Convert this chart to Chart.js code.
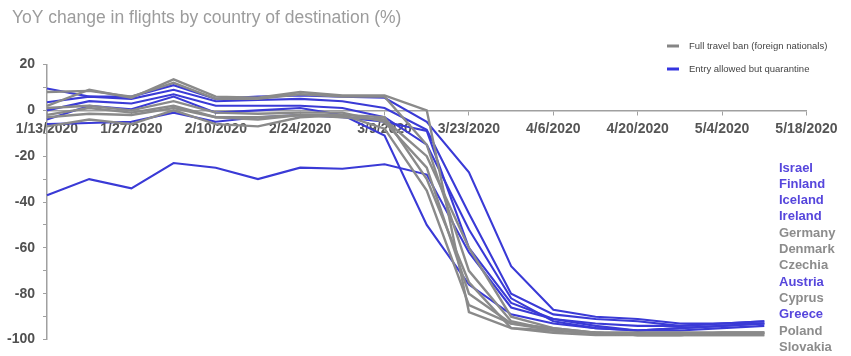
<!DOCTYPE html>
<html>
<head>
<meta charset="utf-8">
<script src="https://cdn.jsdelivr.net/npm/chart.js@4/dist/chart.umd.min.js"></script>
<style>
  html, body { margin: 0; padding: 0; background: #ffffff; }
  #wrap { position: relative; width: 851px; height: 356px; }
</style>
</head>
<body>
<div id="wrap"><canvas id="chart"></canvas></div>
<script>
// Weekly dates (Mondays); the last one only carries an axis tick
const weeks = ['1/13/2020','1/20/2020','1/27/2020','2/3/2020','2/10/2020','2/17/2020','2/24/2020','3/2/2020',
  '3/9/2020','3/16/2020','3/23/2020','3/30/2020','4/6/2020','4/13/2020','4/20/2020','4/27/2020','5/4/2020',
  '5/11/2020','5/18/2020'];

// Countries whose entry rules allowed arrivals with quarantine
const israel  = [-37, -30, -34, -23, -25, -30, -25, -25.5, -23.5, -28, -62, -86, -91, -93, -94, -94, -93, -92];
const finland = [9.5, 6, 6, 11, 5, 6, 6.5, 6, 5.5, -5, -27, -68, -87, -90, -91, -93, -93, -92];
const iceland = [3.5, 6, 5, 9, 4, 4.5, 5, 4, 1, -8.5, -45, -80, -89, -91, -92, -94, -93, -93];
const ireland = [0, 4, 3, 7, 2, 2, 2, 1, -3, -15, -52, -82, -92, -95, -96, -95, -94, -93];
const austria = [-4, 2, 0.5, 6, -1, 0, 1, -2, -11, -50, -76, -89, -93, -95, -96, -96, -95, -94];
const greece  = [-6, -5.5, -5, -1, -5, -3, -2, -3, -5, -9, -60, -84, -91, -94, -96, -95, -94, -93];

// Countries with a full travel ban for foreign nationals
const germany  = [2, 9, 5.5, 13.5, 6, 5.5, 8, 6.5, 6.5, 0, -88, -95, -96, -97, -97, -97, -97, -97];
const denmark  = [8, 8.5, 6, 12, 5, 5, 7, 6, 6, -15, -70, -92, -96, -97, -98, -98, -97, -97];
const czechia  = [1, 2, 0, 4, -1, -1.5, -1, -1, -5, -25, -80, -93, -96, -97, -97, -97, -97, -97];
const cyprus   = [-2, 1, -1, 2, -3, -4, -2, -2, -8, -35, -85, -93, -95, -97, -98, -98, -97, -97];
const poland   = [-3, -1.5, -2, 1, -3, -3, -2, -3, -4, -20, -60, -90, -95, -97, -98, -98, -98, -98];
const slovakia = [-7, -4, -6, 0, -6, -7, -3, -2, -3, -30, -75, -95, -97, -98, -98, -98, -98, -98];

const yTicks = [20, 0, -20, -40, -60, -80, -100];

const labelOrder = ['Israel','Finland','Iceland','Ireland','Germany','Denmark','Czechia','Austria','Cyprus','Greece','Poland','Slovakia'];
const quarantineGroup = ['Israel','Finland','Iceland','Ireland','Austria','Greece'];

const BLUE = '#3a3ad6';
const GREY = '#8a8a8a';

const banSeries = { Germany: germany, Denmark: denmark, Czechia: czechia, Cyprus: cyprus, Poland: poland, Slovakia: slovakia };
const quarantineSeries = { Israel: israel, Finland: finland, Iceland: iceland, Ireland: ireland, Austria: austria, Greece: greece };

const datasets = [];
for (const [name, vals] of Object.entries(banSeries)) {
  datasets.push({ label: name, data: vals, borderColor: GREY, borderWidth: 2.4, pointRadius: 0, tension: 0, fill: false });
}
for (const [name, vals] of Object.entries(quarantineSeries)) {
  datasets.push({ label: name, data: vals, borderColor: BLUE, borderWidth: 2.1, pointRadius: 0, tension: 0, fill: false });
}

Chart.defaults.font.family = '"Liberation Sans", Arial, sans-serif';

// Title, legend key and country list
const decor = {
  id: 'decor',
  afterDraw(chart) {
    const ctx = chart.ctx;
    ctx.save();
    ctx.textBaseline = 'alphabetic';
    ctx.textAlign = 'left';
    ctx.fillStyle = '#9c9c9c';
    ctx.font = '17.5px "Liberation Sans", Arial, sans-serif';
    ctx.fillText('YoY change in flights by country of destination (%)', 12, 23);

    const keys = [
      { text: 'Full travel ban (foreign nationals)', color: '#858585', y: 46 },
      { text: 'Entry allowed but quarantine', color: '#3434e0', y: 69 }
    ];
    ctx.font = '9.5px "Liberation Sans", Arial, sans-serif';
    ctx.textBaseline = 'middle';
    for (const k of keys) {
      ctx.fillStyle = k.color;
      ctx.fillRect(667, k.y - 1.5, 12, 3);
      ctx.fillStyle = '#444444';
      ctx.fillText(k.text, 689, k.y);
    }

    ctx.font = 'bold 13px "Liberation Sans", Arial, sans-serif';
    labelOrder.forEach((name, i) => {
      ctx.fillStyle = quarantineGroup.includes(name) ? '#5646dc' : '#8c8c8c';
      ctx.fillText(name, 779, 168 + i * 16.3);
    });
    ctx.restore();
  }
};

new Chart(document.getElementById('chart'), {
  type: 'line',
  data: { labels: weeks, datasets },
  options: {
    responsive: true,
    maintainAspectRatio: false,
    animation: false,
    layout: { padding: { top: 64.5, bottom: 8.3, left: 0, right: 44.5 } },
    plugins: { legend: { display: false }, tooltip: { enabled: false } },
    scales: {
      x: {
        type: 'category',
        offset: false,
        position: { y: 0 },
        afterFit(scale) { scale.height = 0; },
        border: { display: true, color: '#a0a0a0', width: 1.5 },
        grid: {
          drawOnChartArea: false,
          tickLength: 4,
          tickColor: (c) => (c.index % 2 === 0 ? '#a0a0a0' : 'rgba(0,0,0,0)')
        },
        ticks: {
          autoSkip: false,
          maxRotation: 0,
          padding: 6,
          color: '#555555',
          font: { size: 14, weight: 'bold' },
          callback(v, i) { return i % 2 === 0 ? weeks[i] : ''; }
        }
      },
      y: {
        min: yTicks[yTicks.length - 1],
        max: yTicks[0],
        afterFit(scale) { scale.width = 47; },
        border: { display: true, color: '#a0a0a0', width: 1.5 },
        grid: { drawOnChartArea: false, tickLength: 4, tickColor: '#a0a0a0' },
        ticks: {
          stepSize: 10,
          padding: 8,
          color: '#505050',
          font: { size: 14, weight: 'bold' },
          callback(v) { return yTicks.includes(v) ? String(v) : ''; }
        }
      }
    }
  },
  plugins: [decor]
});
</script>
</body>
</html>
